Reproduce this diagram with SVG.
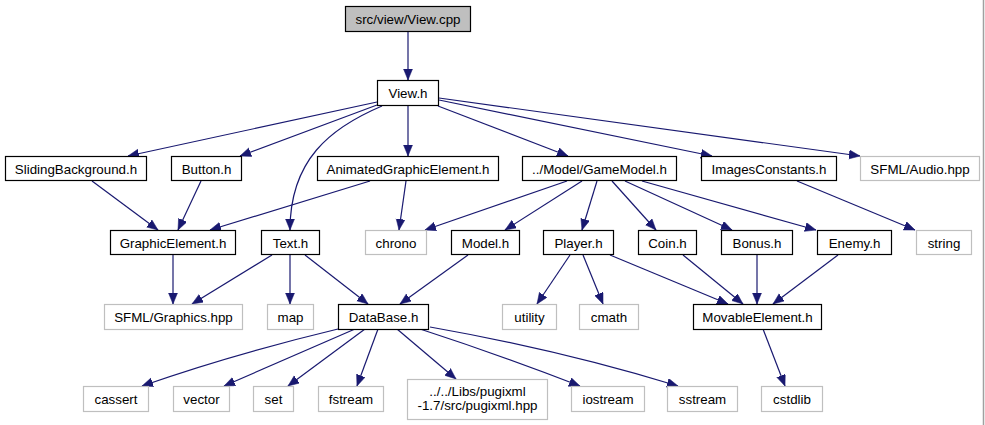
<svg xmlns="http://www.w3.org/2000/svg" width="985" height="425" viewBox="0 0 985 425">
<style>
.n rect{fill:#fff;stroke:#000;stroke-width:1.2}
.s rect{fill:#fff;stroke:#bfbfbf;stroke-width:1.2}
.m rect{fill:#bfbfbf;stroke:#000;stroke-width:1.2}
text{font-family:"Liberation Sans",Arial,sans-serif;font-size:13.33px;text-anchor:middle;fill:#000}
#edges path{fill:none;stroke:#191970;stroke-width:1.2;marker-end:url(#ah)}
</style>
<defs>
<marker id="ah" markerUnits="userSpaceOnUse" markerWidth="12" markerHeight="10" refX="11" refY="4.5" orient="auto">
<path d="M0,0 L11,4.5 L0,9 z" fill="#191970" stroke="#191970" stroke-width="0.5"/>
</marker>
</defs>
<rect width="985" height="425" fill="#fff"/>
<line x1="983.5" y1="0" x2="983.5" y2="425" stroke="#a0a0a0" stroke-width="1.5"/>
<g id="edges">
<path d="M408,31 L408,80"/>
<path d="M377,102 L128,156"/>
<path d="M377,105 L240,156"/>
<path d="M382,106 C330,128 290,160 290,230"/>
<path d="M408,106 L408,156"/>
<path d="M438,106 L568,156"/>
<path d="M439,100 L712,156"/>
<path d="M439,98 L860,156"/>
<path d="M92,181 L158,230"/>
<path d="M201,181 L178,230"/>
<path d="M370,181 L210,230"/>
<path d="M406,181 L399,230"/>
<path d="M567,181 L425,230"/>
<path d="M582,181 L505,230"/>
<path d="M597,181 L582,230"/>
<path d="M612,181 L656,230"/>
<path d="M625,181 L732,230"/>
<path d="M642,181 L816,230"/>
<path d="M797,181 L915,230"/>
<path d="M173,255 L173,304"/>
<path d="M272,255 L192,304"/>
<path d="M290,255 L290,304"/>
<path d="M305,255 L368,304"/>
<path d="M468,255 L400,304"/>
<path d="M570,255 L537,304"/>
<path d="M583,255 L603,304"/>
<path d="M610,255 L728,304"/>
<path d="M683,255 L743,304"/>
<path d="M757,255 L757,304"/>
<path d="M838,255 L773,304"/>
<path d="M763,329 L785,386"/>
<path d="M338,329 Q230,355 142,386"/>
<path d="M355,329 Q290,357 224,386"/>
<path d="M365,329 L288,386"/>
<path d="M378,329 L357,386"/>
<path d="M397,329 L456,379"/>
<path d="M420,329 Q500,355 580,386"/>
<path d="M430,327 Q560,350 678,386"/>
</g>
<g id="n0" class="m"><rect x="345.5" y="6.5" width="125" height="25"/><text x="408" y="23.5">src/view/View.cpp</text></g>
<g id="n1" class="n"><rect x="377.5" y="80.5" width="61" height="25"/><text x="408" y="98">View.h</text></g>
<g id="n2" class="n"><rect x="5.5" y="156.5" width="141" height="24"/><text x="76" y="173.5">SlidingBackground.h</text></g>
<g id="n3" class="n"><rect x="171.5" y="156.5" width="70" height="24"/><text x="206.5" y="173.5">Button.h</text></g>
<g id="n4" class="n"><rect x="317.5" y="156.5" width="181" height="24"/><text x="408" y="173.5">AnimatedGraphicElement.h</text></g>
<g id="n5" class="n"><rect x="522.5" y="156.5" width="154" height="24"/><text x="599.5" y="173.5">../Model/GameModel.h</text></g>
<g id="n6" class="n"><rect x="701.5" y="156.5" width="135" height="24"/><text x="769" y="173.5">ImagesConstants.h</text></g>
<g id="n7" class="s"><rect x="860.5" y="156.5" width="119" height="24"/><text x="920" y="173.5">SFML/Audio.hpp</text></g>
<g id="n8" class="n"><rect x="110.5" y="230.5" width="125" height="24"/><text x="173" y="247.5">GraphicElement.h</text></g>
<g id="n9" class="n"><rect x="261.5" y="230.5" width="58" height="24"/><text x="290.5" y="247.5">Text.h</text></g>
<g id="n10" class="s"><rect x="365.5" y="230.5" width="61" height="24"/><text x="396" y="247.5">chrono</text></g>
<g id="n11" class="n"><rect x="451.5" y="230.5" width="68" height="24"/><text x="485.5" y="247.5">Model.h</text></g>
<g id="n12" class="n"><rect x="543.5" y="230.5" width="70" height="24"/><text x="578.5" y="247.5">Player.h</text></g>
<g id="n13" class="n"><rect x="638.5" y="230.5" width="58" height="24"/><text x="667.5" y="247.5">Coin.h</text></g>
<g id="n14" class="n"><rect x="721.5" y="230.5" width="71" height="24"/><text x="757" y="247.5">Bonus.h</text></g>
<g id="n15" class="n"><rect x="817.5" y="230.5" width="74" height="24"/><text x="854.5" y="247.5">Enemy.h</text></g>
<g id="n16" class="s"><rect x="916.5" y="230.5" width="55" height="24"/><text x="944" y="247.5">string</text></g>
<g id="n17" class="s"><rect x="104.5" y="304.5" width="138" height="25"/><text x="173.5" y="322">SFML/Graphics.hpp</text></g>
<g id="n18" class="s"><rect x="267.5" y="304.5" width="46" height="25"/><text x="290.5" y="322">map</text></g>
<g id="n19" class="n"><rect x="338.5" y="304.5" width="90" height="25"/><text x="383.5" y="322">DataBase.h</text></g>
<g id="n20" class="s"><rect x="502.5" y="304.5" width="54" height="25"/><text x="529.5" y="322">utility</text></g>
<g id="n21" class="s"><rect x="579.5" y="304.5" width="59" height="25"/><text x="609" y="322">cmath</text></g>
<g id="n22" class="n"><rect x="693.5" y="304.5" width="128" height="25"/><text x="757.5" y="322">MovableElement.h</text></g>
<g id="n23" class="s"><rect x="83.5" y="386.5" width="65" height="25"/><text x="116" y="404">cassert</text></g>
<g id="n24" class="s"><rect x="173.5" y="386.5" width="56" height="25"/><text x="201.5" y="404">vector</text></g>
<g id="n25" class="s"><rect x="253.5" y="386.5" width="40" height="25"/><text x="273.5" y="404">set</text></g>
<g id="n26" class="s"><rect x="318.5" y="386.5" width="65" height="25"/><text x="351" y="404">fstream</text></g>
<g id="n27" class="s"><rect x="407.5" y="379.5" width="140" height="40"/><text x="477.5" y="396">../../Libs/pugixml</text><text x="477.5" y="410">-1.7/src/pugixml.hpp</text></g>
<g id="n28" class="s"><rect x="571.5" y="386.5" width="73" height="25"/><text x="608" y="404">iostream</text></g>
<g id="n29" class="s"><rect x="667.5" y="386.5" width="70" height="25"/><text x="702.5" y="404">sstream</text></g>
<g id="n30" class="s"><rect x="761.5" y="386.5" width="61" height="25"/><text x="792" y="404">cstdlib</text></g>
</svg>
